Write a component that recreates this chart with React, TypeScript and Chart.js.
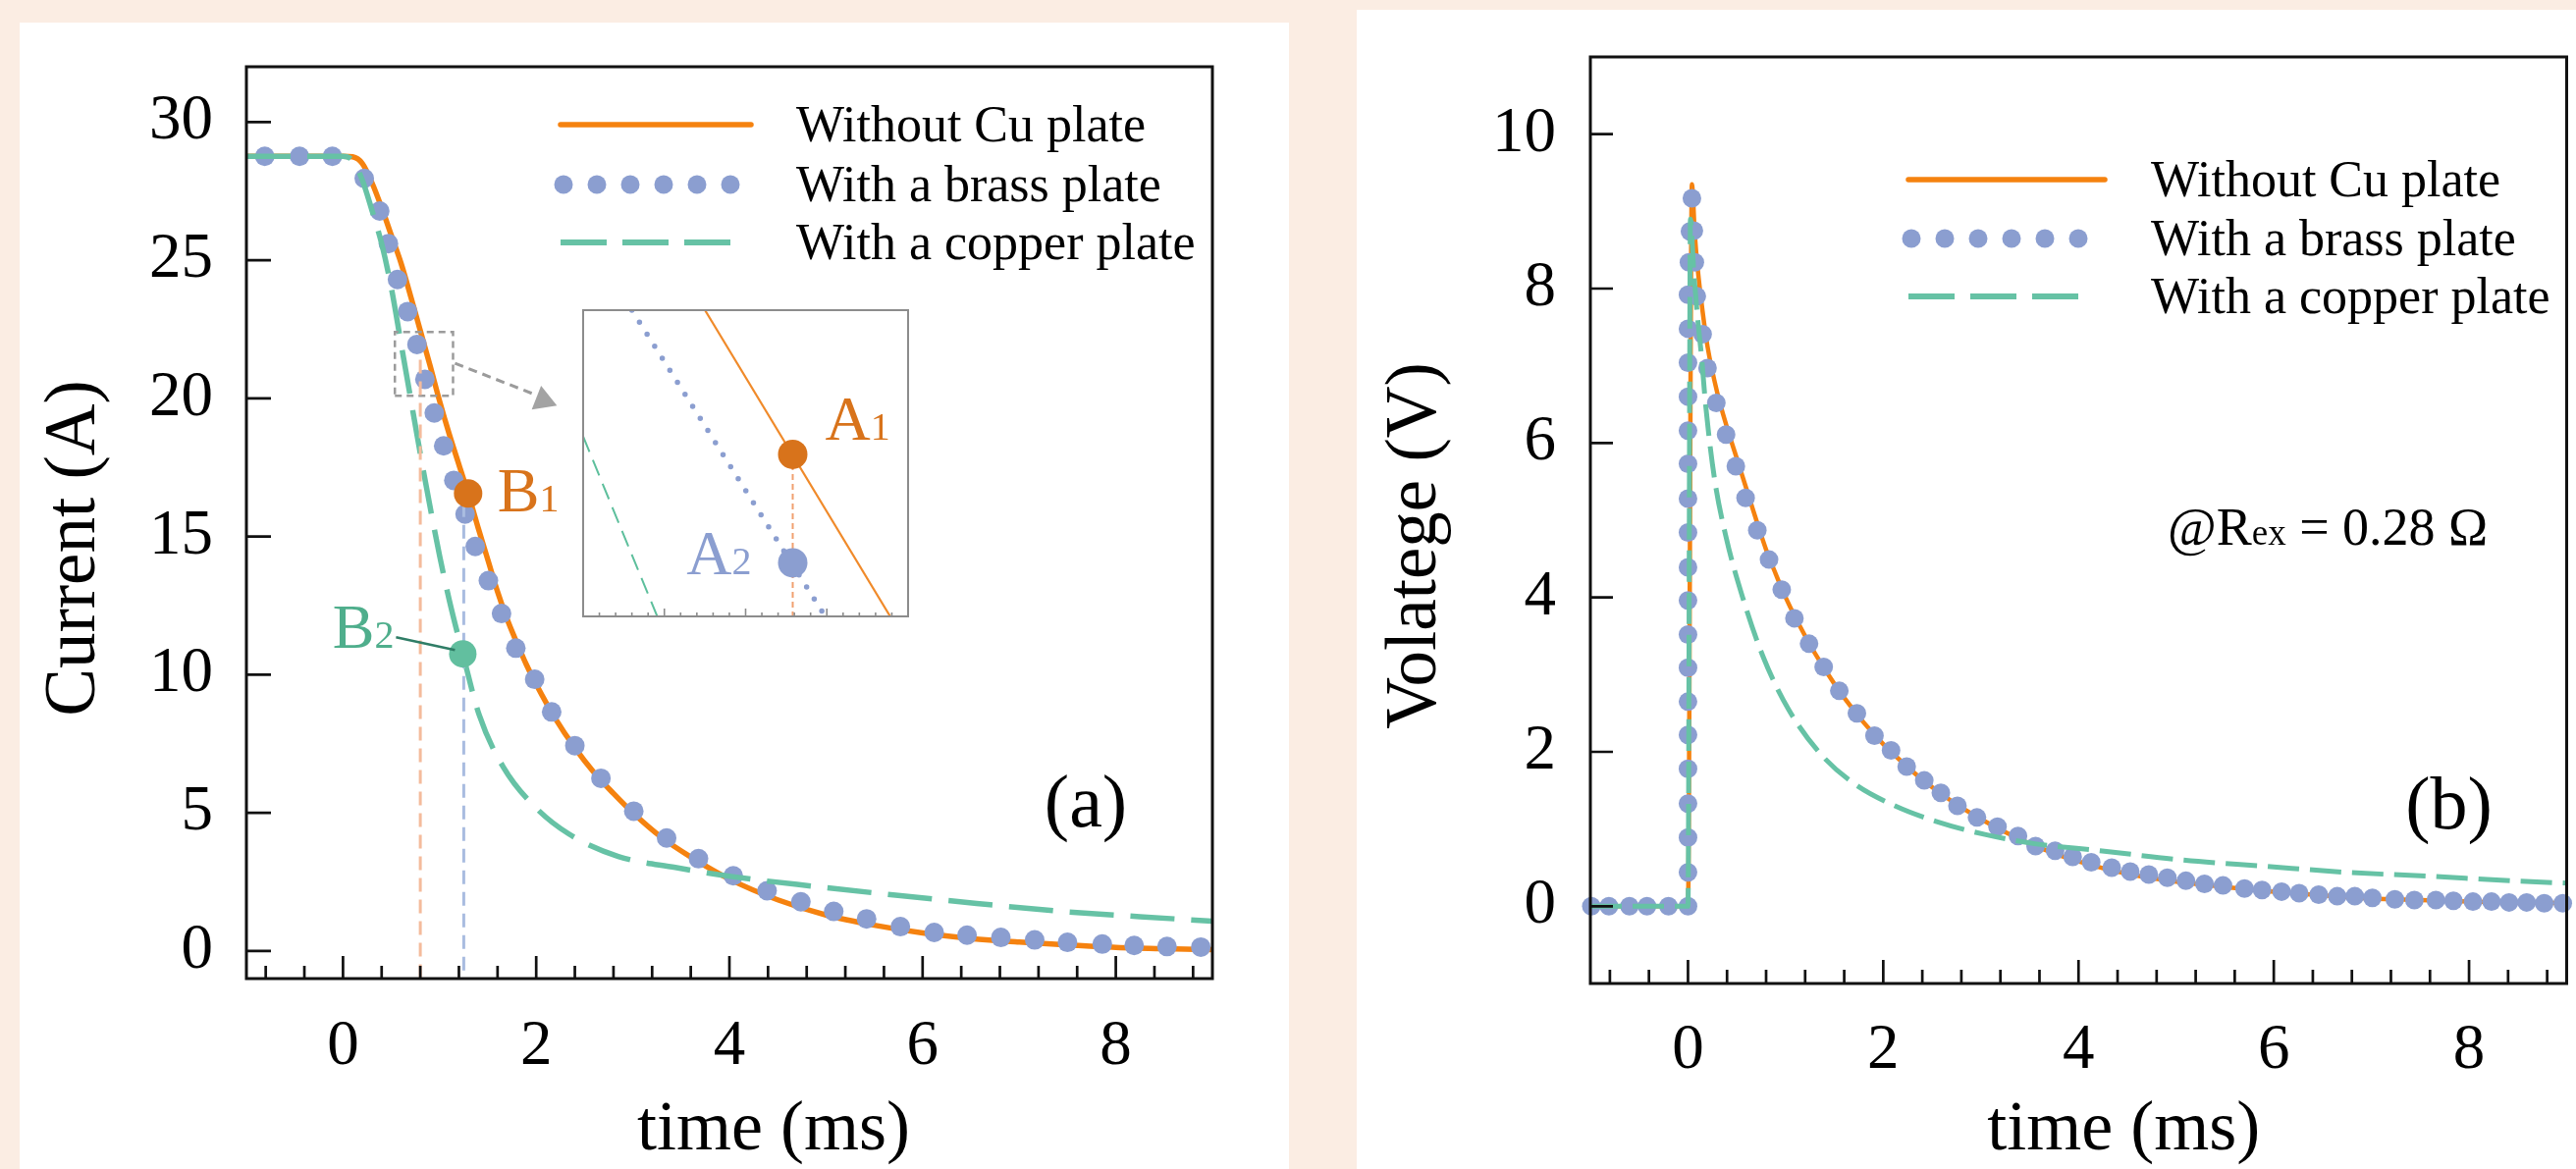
import React, { useEffect, useRef } from "react";
import { Chart, registerables } from "chart.js";

Chart.register(...registerables);

const FONT = "'Liberation Serif', 'Times New Roman', Times, serif";

// ---------- colours ----------
const ORANGE = "#f5820f";
const ORANGE_DARK = "#d8731b";
const BLUE = "#8b9ed0";
const GREEN = "#66c2a5";
const GREEN_MARK = "#62bf9f";
const GREEN_TEXT = "#4fae8c";
const PALE_ORANGE = "#f4bb9c";
const PALE_BLUE = "#a9bce0";
const GREY = "#9b9b9b";

// ---------- shared ticks / labels ----------
const xTicksMajor = [0, 2, 4, 6, 8];
const xTicksMinor = [-0.8, -0.4, 0.4, 0.8, 1.2, 1.6, 2.4, 2.8, 3.2, 3.6, 4.4, 4.8, 5.2, 5.6, 6.4, 6.8, 7.2, 7.6, 8.4, 8.8];
const yTicksA = [0, 5, 10, 15, 20, 25, 30];
const yTicksB = [0, 2, 4, 6, 8, 10];
const legendLabels = ["Without Cu plate", "With a brass plate", "With a copper plate"];

// ---------- panel (a): current ----------
const timeNoCuA = [-1, -0.5, 0, 0.1, 0.2, 0.3, 0.4, 0.5, 0.6, 0.7, 0.8, 0.9, 1.0, 1.1, 1.2, 1.3, 1.4, 1.5, 1.6, 1.7, 1.8, 1.9, 2.0, 2.2, 2.4, 2.6, 2.8, 3.0, 3.3, 3.6, 4.0, 4.5, 5.0, 5.5, 6.0, 6.5, 7.0, 7.5, 8.0, 8.5, 9.0];
const currentNoCuA = [28.76, 28.76, 28.76, 28.74, 28.5, 27.8, 26.9, 25.9, 24.9, 23.7, 22.45, 21.2, 19.9, 18.7, 17.6, 16.5, 15.3, 14.15, 13.0, 12.0, 11.15, 10.35, 9.65, 8.4, 7.35, 6.45, 5.7, 5.0, 4.1, 3.4, 2.6, 1.85, 1.3, 0.93, 0.65, 0.45, 0.32, 0.22, 0.13, 0.08, 0.05];

const timeBrassA = [-0.81, -0.45, -0.11, 0.22, 0.38, 0.47, 0.564, 0.669, 0.766, 0.848, 0.945, 1.042, 1.147, 1.264, 1.369, 1.505, 1.641, 1.789, 1.984, 2.16, 2.4, 2.67, 3.01, 3.35, 3.68, 4.04, 4.39, 4.74, 5.08, 5.42, 5.77, 6.12, 6.46, 6.81, 7.16, 7.5, 7.86, 8.19, 8.53, 8.88];
const currentBrassA = [28.76, 28.76, 28.76, 27.96, 26.78, 25.6, 24.3, 23.14, 21.95, 20.69, 19.47, 18.28, 17.03, 15.81, 14.64, 13.4, 12.21, 10.96, 9.83, 8.65, 7.43, 6.25, 5.06, 4.09, 3.34, 2.72, 2.18, 1.78, 1.43, 1.16, 0.88, 0.67, 0.57, 0.49, 0.4, 0.31, 0.25, 0.2, 0.16, 0.14];

const timeCopperA = [-1, 0, 0.1, 0.2, 0.3, 0.4, 0.5, 0.6, 0.7, 0.8, 0.9, 1.0, 1.1, 1.24, 1.41, 1.66, 2.0, 2.34, 2.85, 3.44, 4.03, 4.87, 5.72, 6.56, 7.41, 8.25, 9.0];
const currentCopperA = [28.76, 28.76, 28.6, 27.9, 26.8, 25.6, 24.0, 22.0, 20.0, 18.0, 16.1, 14.3, 12.7, 10.75, 8.54, 6.65, 5.17, 4.23, 3.42, 3.02, 2.69, 2.34, 2.02, 1.72, 1.44, 1.24, 1.08];

// guide lines, markers, zoom box (panel a)
const guideOrangeT = [0.8, 0.8];
const guideOrangeI = [21.4, -1];
const guideBlueT = [1.25, 1.25];
const guideBlueI = [16.2, -1];
const markerB1T = [1.295];
const markerB1I = [16.56];
const markerB2T = [1.24];
const markerB2I = [10.75];
const zoomBoxT = [0.537, 1.139, 1.139, 0.537, 0.537];
const zoomBoxI = [20.09, 20.09, 22.4, 22.4, 20.09];
const arrowT = [1.159, 1.976];
const arrowI = [21.27, 20.15];
const arrowHeadT = [2.073];
const arrowHeadI = [19.93];

// ---------- inset (zoomed view) ----------
const insetTimeNoCu = [0.775, 0.889];
const insetNoCu = [22.4, 20.0];
const insetTimeBrass = [0.73, 0.847];
const insetBrass = [22.4, 20.04];
const insetTimeCopper = [0.7, 0.7456];
const insetCopper = [21.41, 20.0];
const insetMarkA1T = [0.829];
const insetMarkA1I = [21.27];
const insetMarkA2T = [0.829];
const insetMarkA2I = [20.42];
const insetGuideT = [0.829, 0.829];
const insetGuideI = [21.27, 20.0];
const insetTicksMajor = [0.75, 0.8, 0.85, 0.9];
const insetTicksMinor = [0.71, 0.72, 0.73, 0.74, 0.76, 0.77, 0.78, 0.79, 0.81, 0.82, 0.83, 0.84, 0.86, 0.87, 0.88, 0.89];

// ---------- panel (b): voltage ----------
const timeNoCuB = [-1, 0, 0.04, 0.07, 0.1, 0.15, 0.2, 0.3, 0.4, 0.5, 0.6, 0.7, 0.8, 0.9, 1.0, 1.2, 1.4, 1.6, 1.8, 2.0, 2.2, 2.4, 2.6, 2.8, 3.0, 3.3, 3.6, 4.0, 4.5, 5.0, 5.5, 6.0, 6.5, 7.0, 7.5, 8.0, 8.5, 9.0];
const voltNoCuB = [0, 0, 9.35, 8.7, 8.25, 7.7, 7.25, 6.65, 6.2, 5.8, 5.4, 5.0, 4.62, 4.3, 4.0, 3.5, 3.07, 2.7, 2.38, 2.1, 1.86, 1.64, 1.45, 1.28, 1.13, 0.93, 0.76, 0.58, 0.42, 0.32, 0.25, 0.19, 0.14, 0.1, 0.08, 0.06, 0.05, 0.04];

const timeBrassB = [-0.99, -0.81, -0.6, -0.42, -0.2, 0,
  0, 0, 0, 0, 0, 0, 0, 0, 0, 0, 0, 0, 0, 0, 0, 0, 0, 0,
  0.01, 0.02, 0.04, 0.06, 0.07, 0.09, 0.15,
  0.2, 0.29, 0.39, 0.49, 0.59, 0.71, 0.83, 0.96, 1.09, 1.24, 1.39, 1.55, 1.73, 1.91, 2.08, 2.24, 2.42, 2.59, 2.76, 2.96,
  3.17, 3.38, 3.56, 3.76, 3.94, 4.13, 4.34, 4.53, 4.72, 4.91, 5.1, 5.29, 5.48, 5.7, 5.88, 6.08, 6.26, 6.46, 6.65, 6.83,
  7.01, 7.24, 7.44, 7.66, 7.84, 8.04, 8.23, 8.41, 8.59, 8.77, 8.96];
const voltBrassB = [0, 0, 0, 0, 0, 0,
  0.44, 0.89, 1.33, 1.78, 2.22, 2.65, 3.09, 3.52, 3.96, 4.39, 4.84, 5.28, 5.73, 6.16, 6.6, 7.04, 7.48, 7.92,
  8.34, 8.74, 9.17, 8.75, 8.34, 7.9, 7.41,
  6.97, 6.52, 6.11, 5.7, 5.29, 4.87, 4.49, 4.1, 3.73, 3.4, 3.1, 2.79, 2.5, 2.21, 2.02, 1.81, 1.63, 1.47, 1.3, 1.15,
  1.03, 0.91, 0.78, 0.72, 0.64, 0.57, 0.5, 0.45, 0.41, 0.37, 0.33, 0.29, 0.27, 0.23, 0.21, 0.19, 0.17, 0.15, 0.13, 0.13,
  0.11, 0.09, 0.08, 0.08, 0.07, 0.06, 0.06, 0.05, 0.05, 0.04, 0.04];

const timeCopperB = [-1, 0, 0.025, 0.06, 0.1, 0.14, 0.18, 0.27, 0.39, 0.56, 0.77, 1.03, 1.36, 1.7, 2.12, 2.54, 3.04, 3.55, 4.22, 5.06, 5.9, 6.74, 7.58, 8.42, 9.0];
const voltCopperB = [0, 0, 8.9, 8.2, 7.6, 7.1, 6.5, 5.55, 4.78, 4.0, 3.23, 2.55, 1.97, 1.59, 1.3, 1.1, 0.93, 0.81, 0.72, 0.6, 0.52, 0.44, 0.39, 0.33, 0.3];

// ---------- helpers ----------
const pts = (xs: number[], ys: number[]) => xs.map((x, i) => ({ x, y: ys[i] }));

function fixAxis(dim: "width" | "height", size: number) {
  return (s: any) => {
    s[dim] = size;
    s.paddingTop = 0;
    s.paddingBottom = 0;
    s.paddingLeft = 0;
    s.paddingRight = 0;
  };
}

function setTicks(values: number[]) {
  return (s: any) => {
    s.ticks = values.map((v) => ({ value: v }));
  };
}

function drawFrame(chart: any, o: { yMajor: number[]; majorLen: number; minorLen: number; yLen: number }) {
  const { ctx, chartArea: a, scales } = chart;
  const x = scales.x;
  const y = scales.y;
  ctx.save();
  ctx.strokeStyle = "#111";
  ctx.lineWidth = 2.7;
  ctx.beginPath();
  for (const v of xTicksMajor) {
    const p = x.getPixelForValue(v);
    ctx.moveTo(p, a.bottom);
    ctx.lineTo(p, a.bottom - o.majorLen);
  }
  for (const v of xTicksMinor) {
    const p = x.getPixelForValue(v);
    ctx.moveTo(p, a.bottom);
    ctx.lineTo(p, a.bottom - o.minorLen);
  }
  for (const v of o.yMajor) {
    const p = y.getPixelForValue(v);
    ctx.moveTo(a.left, p);
    ctx.lineTo(a.left + o.yLen, p);
  }
  ctx.stroke();
  ctx.lineWidth = 3;
  ctx.strokeRect(a.left, a.top, a.right - a.left, a.bottom - a.top);
  ctx.restore();
}

function drawTitles(chart: any, xt: string, yt: string, o: { xDx: number; xY: number; yX: number; yDy: number }) {
  const { ctx, chartArea: a } = chart;
  ctx.save();
  ctx.fillStyle = "#000";
  ctx.textAlign = "center";
  ctx.textBaseline = "middle";
  ctx.font = `72px ${FONT}`;
  ctx.fillText(xt, (a.left + a.right) / 2 + o.xDx, o.xY);
  ctx.translate(o.yX, (a.top + a.bottom) / 2 + o.yDy);
  ctx.rotate(-Math.PI / 2);
  ctx.font = `73px ${FONT}`;
  ctx.fillText(yt, 0, 0);
  ctx.restore();
}

function drawLegend(chart: any, o: { x0: number; lineLen: number; rows: number[]; textX: number }) {
  const { ctx } = chart;
  ctx.save();
  ctx.lineCap = "round";
  ctx.strokeStyle = ORANGE;
  ctx.lineWidth = 5.5;
  ctx.beginPath();
  ctx.moveTo(o.x0, o.rows[0]);
  ctx.lineTo(o.x0 + o.lineLen, o.rows[0]);
  ctx.stroke();
  ctx.fillStyle = BLUE;
  for (let k = 0; k < 6; k++) {
    const cx = o.x0 + 3 + (k * 170) / 5;
    ctx.beginPath();
    ctx.arc(cx, o.rows[1], 9.5, 0, Math.PI * 2);
    ctx.fill();
  }
  ctx.lineCap = "butt";
  ctx.strokeStyle = GREEN;
  ctx.lineWidth = 6;
  ctx.setLineDash([47, 16]);
  ctx.beginPath();
  ctx.moveTo(o.x0, o.rows[2]);
  ctx.lineTo(o.x0 + 173, o.rows[2]);
  ctx.stroke();
  ctx.setLineDash([]);
  ctx.fillStyle = "#000";
  ctx.font = `52px ${FONT}`;
  ctx.textAlign = "left";
  ctx.textBaseline = "middle";
  legendLabels.forEach((t, i) => ctx.fillText(t, o.textX, o.rows[i] + 3));
  ctx.restore();
}

function drawSub(ctx: any, main: string, sub: string, x: number, base: number, color: string, align: "left" | "right") {
  ctx.save();
  ctx.fillStyle = color;
  ctx.textBaseline = "alphabetic";
  ctx.textAlign = "left";
  ctx.font = `64px ${FONT}`;
  const w1 = ctx.measureText(main).width;
  ctx.font = `40px ${FONT}`;
  const w2 = ctx.measureText(sub).width;
  const left = align === "left" ? x : x - w1 - w2;
  ctx.font = `64px ${FONT}`;
  ctx.fillText(main, left, base);
  ctx.font = `40px ${FONT}`;
  ctx.fillText(sub, left + w1, base);
  ctx.restore();
}

function axisScales(xMin: number, xMax: number, yMin: number, yMax: number, yTicks: number[], yWidth: number, xHeight: number, xPad: number, yPad: number) {
  const tickFont = { family: FONT, size: 65 };
  return {
    x: {
      type: "linear" as const,
      min: xMin,
      max: xMax,
      afterBuildTicks: setTicks(xTicksMajor),
      afterFit: fixAxis("height", xHeight),
      grid: { display: false, drawTicks: false },
      border: { display: false },
      ticks: { font: tickFont, color: "#000", padding: xPad, maxRotation: 0, autoSkip: false, callback: (v: any) => String(v) },
    },
    y: {
      type: "linear" as const,
      min: yMin,
      max: yMax,
      afterBuildTicks: setTicks(yTicks),
      afterFit: fixAxis("width", yWidth),
      grid: { display: false, drawTicks: false },
      border: { display: false },
      ticks: { font: tickFont, color: "#000", padding: yPad, autoSkip: false, callback: (v: any) => String(v) },
    },
  };
}

const lineDs = (data: any, color: string, width: number, dash: number[] | undefined, order: number) => ({
  data,
  showLine: true,
  borderColor: color,
  borderWidth: width,
  borderDash: dash || [],
  pointRadius: 0,
  cubicInterpolationMode: "monotone" as const,
  order,
});

const dotDs = (data: any, color: string, r: number, order: number, extra: any = {}) => ({
  data,
  showLine: false,
  pointRadius: r,
  pointBackgroundColor: color,
  pointBorderColor: color,
  pointBorderWidth: 0,
  order,
  ...extra,
});

// ---------- chart configs ----------
function configA(): any {
  const plugin = {
    id: "panelA",
    afterDraw(chart: any) {
      const { ctx, chartArea: a, scales } = chart;
      drawFrame(chart, { yMajor: yTicksA, majorLen: 23, minorLen: 13, yLen: 25 });
      drawTitles(chart, "time (ms)", "Current (A)", { xDx: 45, xY: 1152, yX: 77, yDy: 26 });
      drawLegend(chart, { x0: a.left + 320, lineLen: 194, rows: [a.top + 59, a.top + 120, a.top + 179], textX: a.left + 560 });
      ctx.save();
      ctx.fillStyle = "#000";
      ctx.font = `76px ${FONT}`;
      ctx.textAlign = "center";
      ctx.textBaseline = "middle";
      ctx.fillText("(a)", a.right - 129, a.bottom - 175);
      ctx.restore();
      const b1x = scales.x.getPixelForValue(markerB1T[0]);
      const b1y = scales.y.getPixelForValue(markerB1I[0]);
      drawSub(ctx, "B", "1", b1x + 30, b1y + 18, ORANGE_DARK, "left");
      const b2x = scales.x.getPixelForValue(markerB2T[0]);
      const b2y = scales.y.getPixelForValue(markerB2I[0]);
      drawSub(ctx, "B", "2", b2x - 70, b2y - 6, GREEN_TEXT, "right");
      ctx.save();
      ctx.strokeStyle = "#2f7d66";
      ctx.lineWidth = 2.5;
      ctx.beginPath();
      ctx.moveTo(b2x - 68, b2y - 17);
      ctx.lineTo(b2x - 8, b2y - 4);
      ctx.stroke();
      ctx.restore();
    },
  };
  return {
    type: "scatter",
    data: {
      datasets: [
        lineDs(pts(timeNoCuA, currentNoCuA), ORANGE, 5.5, undefined, 4),
        dotDs(pts(timeBrassA, currentBrassA), BLUE, 10, 3),
        lineDs(pts(timeCopperA, currentCopperA), GREEN, 5.5, [45, 17], 2),
        { ...lineDs(pts(guideOrangeT, guideOrangeI), PALE_ORANGE, 3, [14, 8], 1), cubicInterpolationMode: "default", tension: 0 },
        { ...lineDs(pts(guideBlueT, guideBlueI), PALE_BLUE, 3, [14, 8], 1), cubicInterpolationMode: "default", tension: 0 },
        { ...lineDs(pts(zoomBoxT, zoomBoxI), GREY, 2.5, [7, 5], 1), cubicInterpolationMode: "default", tension: 0 },
        { ...lineDs(pts(arrowT, arrowI), GREY, 3, [9, 6], 1), cubicInterpolationMode: "default", tension: 0 },
        dotDs(pts(arrowHeadT, arrowHeadI), "#a3a3a3", 15, 0, { pointStyle: "triangle", rotation: 111.5 }),
        dotDs(pts(markerB1T, markerB1I), ORANGE_DARK, 14.5, -1),
        dotDs(pts(markerB2T, markerB2I), GREEN_MARK, 14, -1),
      ],
    },
    options: {
      responsive: false,
      animation: false,
      events: [],
      layout: { padding: { left: 0, top: 68, right: 75, bottom: 0 } },
      plugins: { legend: { display: false }, tooltip: { enabled: false } },
      scales: axisScales(-1, 9, -1, 32, yTicksA, 251, 194, 31, 34),
    },
    plugins: [plugin],
  };
}

function configInset(): any {
  const plugin = {
    id: "inset",
    beforeDatasetsDraw(chart: any) {
      const { ctx, chartArea: a } = chart;
      ctx.save();
      ctx.fillStyle = "#fff";
      ctx.fillRect(a.left, a.top, a.right - a.left, a.bottom - a.top);
      ctx.restore();
    },
    afterDraw(chart: any) {
      const { ctx, chartArea: a, scales } = chart;
      ctx.save();
      ctx.strokeStyle = "#8c8c8c";
      ctx.lineWidth = 1.6;
      ctx.beginPath();
      for (const v of insetTicksMajor) {
        const p = scales.x.getPixelForValue(v);
        ctx.moveTo(p, a.bottom);
        ctx.lineTo(p, a.bottom - 8);
      }
      for (const v of insetTicksMinor) {
        const p = scales.x.getPixelForValue(v);
        ctx.moveTo(p, a.bottom);
        ctx.lineTo(p, a.bottom - 4);
      }
      ctx.stroke();
      ctx.lineWidth = 2;
      ctx.strokeRect(a.left, a.top, a.right - a.left, a.bottom - a.top);
      ctx.restore();
      const a1x = scales.x.getPixelForValue(insetMarkA1T[0]);
      const a1y = scales.y.getPixelForValue(insetMarkA1I[0]);
      drawSub(ctx, "A", "1", a1x + 33, a1y - 15, ORANGE_DARK, "left");
      const a2x = scales.x.getPixelForValue(insetMarkA2T[0]);
      const a2y = scales.y.getPixelForValue(insetMarkA2I[0]);
      drawSub(ctx, "A", "2", a2x - 42, a2y + 12, BLUE, "right");
    },
  };
  return {
    type: "scatter",
    data: {
      datasets: [
        { ...lineDs(pts(insetTimeNoCu, insetNoCu), "#f08a2a", 2.2, undefined, 3), cubicInterpolationMode: "default", tension: 0 },
        { ...lineDs(pts(insetTimeBrass, insetBrass), BLUE, 5.5, [0, 14.5], 3), cubicInterpolationMode: "default", tension: 0, borderCapStyle: "round" },
        { ...lineDs(pts(insetTimeCopper, insetCopper), "#5dbf9c", 2, [17, 9], 3), cubicInterpolationMode: "default", tension: 0 },
        { ...lineDs(pts(insetGuideT, insetGuideI), "#f0a070", 2, [6, 4], 2), cubicInterpolationMode: "default", tension: 0 },
        dotDs(pts(insetMarkA1T, insetMarkA1I), ORANGE_DARK, 15, 0),
        dotDs(pts(insetMarkA2T, insetMarkA2I), BLUE, 15, 0),
      ],
    },
    options: {
      responsive: false,
      animation: false,
      events: [],
      layout: { padding: 3 },
      plugins: { legend: { display: false }, tooltip: { enabled: false } },
      scales: {
        x: { type: "linear", min: 0.7, max: 0.9, display: false },
        y: { type: "linear", min: 20.0, max: 22.4, display: false },
      },
    },
    plugins: [plugin],
  };
}

function configB(): any {
  const plugin = {
    id: "panelB",
    afterDraw(chart: any) {
      const { ctx, chartArea: a } = chart;
      drawFrame(chart, { yMajor: yTicksB, majorLen: 24, minorLen: 14, yLen: 23 });
      drawTitles(chart, "time (ms)", "Volatege (V)", { xDx: 46, xY: 1152, yX: 133, yDy: 26 });
      drawLegend(chart, { x0: a.left + 324, lineLen: 200, rows: [a.top + 125, a.top + 185, a.top + 244], textX: a.left + 571 });
      ctx.save();
      ctx.fillStyle = "#000";
      ctx.font = `76px ${FONT}`;
      ctx.textAlign = "center";
      ctx.textBaseline = "middle";
      ctx.fillText("(b)", a.right - 120, a.bottom - 178);
      ctx.textAlign = "left";
      ctx.textBaseline = "alphabetic";
      const x0 = a.left + 588;
      const base = a.top + 497;
      ctx.font = `54px ${FONT}`;
      ctx.fillText("@R", x0, base);
      let w = ctx.measureText("@R").width;
      ctx.font = `37px ${FONT}`;
      ctx.fillText("ex", x0 + w, base);
      w += ctx.measureText("ex").width;
      ctx.font = `54px ${FONT}`;
      ctx.fillText(" = 0.28 Ω", x0 + w, base);
      ctx.restore();
    },
  };
  return {
    type: "scatter",
    data: {
      datasets: [
        lineDs(pts(timeNoCuB, voltNoCuB), ORANGE, 4.5, undefined, 4),
        dotDs(pts(timeBrassB, voltBrassB), BLUE, 9.5, 3, { clip: false }),
        lineDs(pts(timeCopperB, voltCopperB), GREEN, 5, [32, 11], 2),
      ],
    },
    options: {
      responsive: false,
      animation: false,
      events: [],
      layout: { padding: { left: 0, top: 58, right: 1, bottom: 0 } },
      plugins: { legend: { display: false }, tooltip: { enabled: false } },
      scales: axisScales(-1, 9, -1, 11, yTicksB, 310, 189, 30, 35),
    },
    plugins: [plugin],
  };
}

export default function App() {
  const refA = useRef<HTMLCanvasElement>(null);
  const refInset = useRef<HTMLCanvasElement>(null);
  const refB = useRef<HTMLCanvasElement>(null);

  useEffect(() => {
    const charts = [
      new Chart(refA.current as HTMLCanvasElement, configA()),
      new Chart(refInset.current as HTMLCanvasElement, configInset()),
      new Chart(refB.current as HTMLCanvasElement, configB()),
    ];
    return () => charts.forEach((c) => c.destroy());
  }, []);

  return (
    <div style={{ position: "absolute", left: 0, top: 0, width: 2624, height: 1191, overflow: "hidden", background: "#fbede3" }}>
      <div style={{ position: "absolute", left: 20, top: 23, width: 1293, height: 1168, background: "#ffffff" }} />
      <div style={{ position: "absolute", left: 1382, top: 10, width: 1242, height: 1181, background: "#ffffff" }} />
      <canvas ref={refA} width={1310} height={1191} style={{ position: "absolute", left: 0, top: 0, width: 1310, height: 1191 }} />
      <canvas ref={refInset} width={361} height={342} style={{ position: "absolute", left: 579, top: 301, width: 361, height: 342 }} />
      <canvas ref={refB} width={1314} height={1191} style={{ position: "absolute", left: 1310, top: 0, width: 1314, height: 1191 }} />
    </div>
  );
}
